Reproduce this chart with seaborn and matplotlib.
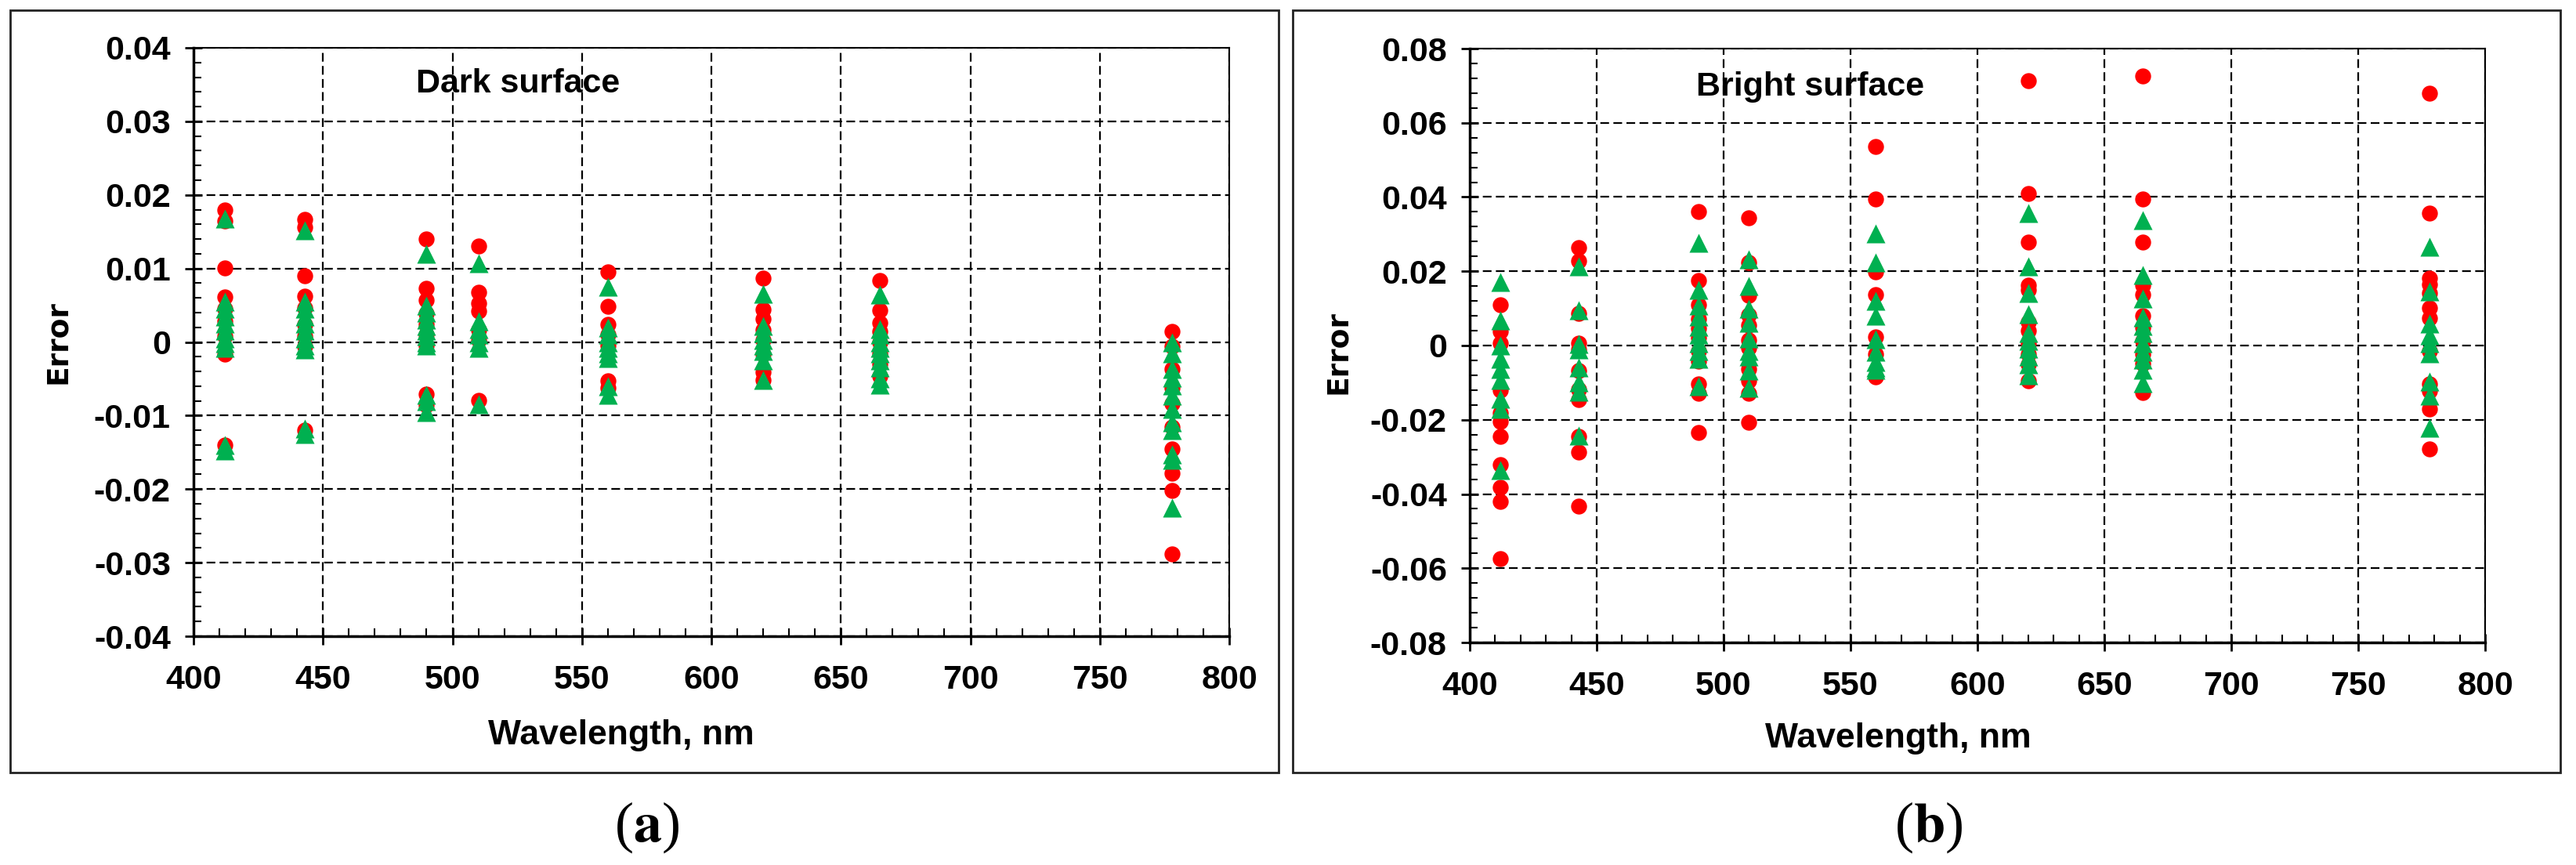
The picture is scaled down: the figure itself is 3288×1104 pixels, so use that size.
import matplotlib
matplotlib.use("Agg")
import matplotlib.pyplot as plt
from matplotlib.ticker import MultipleLocator, FuncFormatter
from matplotlib.patches import Rectangle
import seaborn as sns
import pandas as pd

sns.set_theme(style="white")
plt.rcParams['font.family'] = ['Liberation Sans', 'DejaVu Sans']
plt.rcParams['axes.unicode_minus'] = False
plt.rcParams['text.color'] = 'black'
plt.rcParams['axes.labelcolor'] = 'black'
plt.rcParams['xtick.color'] = 'black'
plt.rcParams['ytick.color'] = 'black'

# ---------------- data ----------------
bands = [412, 443, 490, 510, 560, 620, 665, 778]

# Dark surface (panel a): red circles
dark_red_412 = [0.0179, 0.0165, 0.0101, 0.0061, 0.0045, 0.0028, 0.0008, -0.0017, -0.014]
dark_red_443 = [0.0167, 0.0156, 0.009, 0.0062, 0.0046, 0.0024, 0.0008, -0.0006, -0.012]
dark_red_490 = [0.014, 0.0073, 0.0057, 0.0039, 0.0024, 0.001, -0.0005, -0.0071, -0.0086]
dark_red_510 = [0.0131, 0.0068, 0.0053, 0.0042, 0.0017, 0.0003, -0.0079]
dark_red_560 = [0.0095, 0.0048, 0.0024, 0.001, -0.0005, -0.0053, -0.0062]
dark_red_620 = [0.0087, 0.0044, 0.0031, 0.0017, 0.0003, -0.0016, -0.0041, -0.0052]
dark_red_665 = [0.0084, 0.0043, 0.0026, 0.0014, 0.0, -0.0015, -0.003, -0.0046]
dark_red_778 = [0.0014, -0.0006, -0.0037, -0.0062, -0.0084, -0.0116, -0.0145, -0.0178, -0.0202, -0.0288]

# Dark surface (panel a): green triangles
dark_green_412 = [0.0168, 0.0055, 0.0045, 0.0035, 0.0025, 0.0015, 0.0005, -0.0002, -0.0008, -0.014, -0.0148]
dark_green_443 = [0.0152, 0.0055, 0.0045, 0.0035, 0.0025, 0.0015, 0.0005, -0.0005, -0.001, -0.0118, -0.0125]
dark_green_490 = [0.012, 0.005, 0.004, 0.003, 0.0022, 0.0015, 0.0008, 0.0, -0.0005, -0.0072, -0.008, -0.0095]
dark_green_510 = [0.0107, 0.0028, 0.0018, 0.001, 0.0, -0.0008, -0.0085]
dark_green_560 = [0.0075, 0.002, 0.001, 0.0, -0.0008, -0.0015, -0.0022, -0.006, -0.0072]
dark_green_620 = [0.0066, 0.0022, 0.0012, 0.0003, -0.0005, -0.0012, -0.0025, -0.0052]
dark_green_665 = [0.0064, 0.0018, 0.001, 0.0, -0.0008, -0.0015, -0.0025, -0.0035, -0.005, -0.0058]
dark_green_778 = [-0.0001, -0.0015, -0.0037, -0.0048, -0.0059, -0.0073, -0.0091, -0.0109, -0.012, -0.0153, -0.016, -0.0225]

# Bright surface (panel b): red circles
bright_red_412 = [0.0109, 0.0037, 0.0007, -0.0121, -0.0182, -0.0204, -0.0245, -0.0321, -0.0382, -0.0421, -0.0575]
bright_red_443 = [0.0263, 0.0229, 0.0086, 0.0007, -0.001, -0.0068, -0.0118, -0.0146, -0.0245, -0.0288, -0.0432]
bright_red_490 = [0.0361, 0.0175, 0.011, 0.0071, 0.0046, 0.0021, -0.0014, -0.0043, -0.0104, -0.0129, -0.0234]
bright_red_510 = [0.0344, 0.0224, 0.0136, 0.0082, 0.0054, 0.0014, -0.0007, -0.0064, -0.0096, -0.0129, -0.0206]
bright_red_560 = [0.0536, 0.0394, 0.0199, 0.0138, 0.0024, -0.0023, -0.0084]
bright_red_620 = [0.0713, 0.0409, 0.0279, 0.0163, 0.0149, 0.0063, 0.0041, 0.0006, -0.0023, -0.0051, -0.0094]
bright_red_665 = [0.0727, 0.0394, 0.0279, 0.0163, 0.0138, 0.0081, 0.0049, 0.0013, -0.0023, -0.0048, -0.0126]
bright_red_778 = [0.068, 0.0356, 0.0181, 0.0164, 0.0142, 0.0101, 0.0074, -0.0015, -0.0104, -0.0122, -0.0172, -0.0278]

# Bright surface (panel b): green triangles
bright_green_412 = [0.0171, 0.0068, 0.0, -0.0036, -0.0064, -0.0093, -0.0143, -0.0171, -0.0336]
bright_green_443 = [0.0214, 0.0096, 0.0004, -0.001, -0.006, -0.01, -0.0125, -0.0243]
bright_green_490 = [0.0276, 0.015, 0.0107, 0.0079, 0.005, 0.0029, 0.0007, -0.0014, -0.0036, -0.011]
bright_green_510 = [0.0232, 0.0161, 0.01, 0.0061, 0.0018, -0.0014, -0.0029, -0.0068, -0.0114]
bright_green_560 = [0.0302, 0.0224, 0.012, 0.0081, 0.0016, -0.0016, -0.0044, -0.0059, -0.0066]
bright_green_620 = [0.0356, 0.0213, 0.0141, 0.0084, 0.0034, 0.0013, -0.0009, -0.003, -0.0051, -0.008]
bright_green_665 = [0.0338, 0.0191, 0.0127, 0.0077, 0.0052, 0.0034, 0.0006, -0.0016, -0.0037, -0.0066, -0.0101]
bright_green_778 = [0.0267, 0.0146, 0.006, 0.0028, 0.0006, -0.0022, -0.0097, -0.0136, -0.0222]

dark_red = [dark_red_412, dark_red_443, dark_red_490, dark_red_510,
            dark_red_560, dark_red_620, dark_red_665, dark_red_778]
dark_green = [dark_green_412, dark_green_443, dark_green_490, dark_green_510,
              dark_green_560, dark_green_620, dark_green_665, dark_green_778]
bright_red = [bright_red_412, bright_red_443, bright_red_490, bright_red_510,
              bright_red_560, bright_red_620, bright_red_665, bright_red_778]
bright_green = [bright_green_412, bright_green_443, bright_green_490, bright_green_510,
                bright_green_560, bright_green_620, bright_green_665, bright_green_778]


def to_frame(series):
    rows = []
    for b, vals in zip(bands, series):
        for v in vals:
            rows.append((b, v))
    return pd.DataFrame(rows, columns=["wavelength", "error"])


RED = "#FF0000"
GREEN = "#00B050"

fig = plt.figure(figsize=(32.88, 11.04), dpi=100)
fig.patch.set_facecolor("white")

# outer frames
for x0, x1 in [(13, 1632), (1650, 3268)]:
    fig.patches.append(Rectangle((x0 / 3288, 1 - 986 / 1104), (x1 - x0) / 3288, (986 - 13) / 1104,
                                 transform=fig.transFigure, fill=False, ec="#222222", lw=2.0))

panels = [
    dict(rect=[247 / 3288, 1 - 812 / 1104, (1569 - 247) / 3288, (812 - 61) / 1104],
         red=dark_red, green=dark_green, ylim=(-0.04, 0.04), ymaj=0.01, ymin=0.002,
         title="Dark surface", tpos=(0.215, 0.939), ylab=(-0.131, 0.5), xlab=(0.413, -0.168),
         letter="(a)", lx=826),
    dict(rect=[1876 / 3288, 1 - 820 / 1104, (3172 - 1876) / 3288, (820 - 62) / 1104],
         red=bright_red, green=bright_green, ylim=(-0.08, 0.08), ymaj=0.02, ymin=0.004,
         title="Bright surface", tpos=(0.223, 0.935), ylab=(-0.130, 0.489), xlab=(0.422, -0.162),
         letter="(b)", lx=2462),
]


def yfmt(v, pos):
    if abs(v) < 1e-12:
        return "0"
    return f"{v:.2f}"


for p in panels:
    ax = fig.add_axes(p["rect"])
    ax.set_facecolor("white")
    sns.scatterplot(data=to_frame(p["red"]), x="wavelength", y="error", ax=ax,
                    color=RED, marker="o", s=215, linewidth=0, zorder=3)
    sns.scatterplot(data=to_frame(p["green"]), x="wavelength", y="error", ax=ax,
                    color=GREEN, marker="^", s=300, linewidth=0, zorder=4)
    ax.set_xlim(400, 800)
    ax.set_ylim(*p["ylim"])
    ax.xaxis.set_major_locator(MultipleLocator(50))
    ax.xaxis.set_minor_locator(MultipleLocator(10))
    ax.yaxis.set_major_locator(MultipleLocator(p["ymaj"]))
    ax.yaxis.set_minor_locator(MultipleLocator(p["ymin"]))
    ax.yaxis.set_major_formatter(FuncFormatter(yfmt))
    ax.grid(True, which="major", color="black", linestyle=(0, (5, 2.5)), linewidth=1.6)
    ax.set_axisbelow(True)
    for side in ["left", "bottom"]:
        ax.spines[side].set_linewidth(2.5)
        ax.spines[side].set_color("black")
    for side in ["top", "right"]:
        ax.spines[side].set_linewidth(1.5)
        ax.spines[side].set_color("black")
    ax.tick_params(which="major", direction="inout", length=16, width=2, color="black",
                   labelsize=31, labelcolor="black", bottom=True, left=True, top=False, right=False)
    ax.tick_params(axis="x", which="major", pad=18)
    ax.tick_params(axis="y", which="major", pad=13)
    ax.tick_params(which="minor", direction="in", length=7, width=1.5, color="black",
                   bottom=True, left=True, top=False, right=False)
    for lab in ax.get_xticklabels() + ax.get_yticklabels():
        lab.set_fontweight("bold")
    ax.set_xlabel("Wavelength, nm", fontsize=32, fontweight="bold", color="black",
                  va="center", ha="center")
    ax.xaxis.set_label_coords(*p["xlab"])
    ax.set_ylabel("Error", fontsize=27, fontweight="bold", family="DejaVu Sans", color="black",
                  va="center", ha="center")
    ax.yaxis.set_label_coords(*p["ylab"])
    ax.text(p["tpos"][0], p["tpos"][1], p["title"], transform=ax.transAxes, color="black",
            fontsize=31, fontweight="bold", ha="left", va="center", zorder=5)
    fig.text(p["lx"] / 3288, 1 - 1056 / 1104, p["letter"][0] + "$\\mathbf{" + p["letter"][1] + "}$" + p["letter"][2],
             fontsize=52, ha="center", va="center", color="black",
             family="Liberation Serif", math_fontfamily="stix")

fig.savefig("out.png", dpi=100, facecolor="white")
